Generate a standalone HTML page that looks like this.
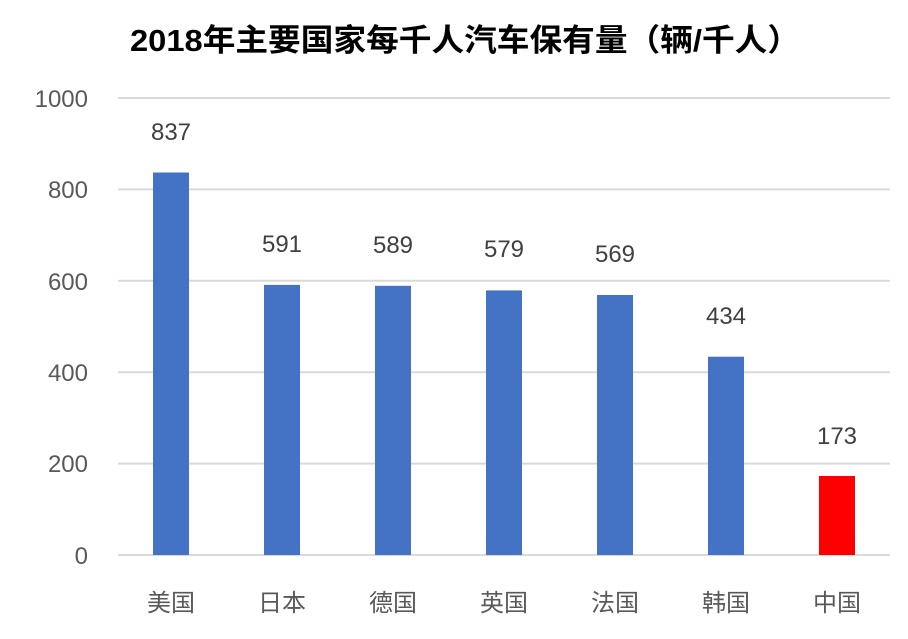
<!DOCTYPE html>
<html><head><meta charset="utf-8"><style>
html,body{margin:0;padding:0;background:#fff;}
body{width:908px;height:634px;overflow:hidden;}
</style></head><body>
<svg width="908" height="634" xmlns="http://www.w3.org/2000/svg" font-family="'Liberation Sans','Noto Sans CJK SC',sans-serif">
<text x="465" y="51" text-anchor="middle" font-size="31" font-weight="bold" fill="#000" textLength="670" lengthAdjust="spacingAndGlyphs">2018年主要国家每千人汽车保有量（辆/千人）</text>
<g stroke="#d9d9d9" stroke-width="2">
<line x1="118" x2="890" y1="98" y2="98"/>
<line x1="118" x2="890" y1="189.4" y2="189.4"/>
<line x1="118" x2="890" y1="280.8" y2="280.8"/>
<line x1="118" x2="890" y1="372.2" y2="372.2"/>
<line x1="118" x2="890" y1="463.6" y2="463.6"/>
<line x1="118" x2="890" y1="555" y2="555"/>
</g>
<g font-size="24" fill="#595959" text-anchor="end">
<text x="88" y="107">1000</text>
<text x="88" y="198">800</text>
<text x="88" y="290">600</text>
<text x="88" y="381">400</text>
<text x="88" y="472">200</text>
<text x="88" y="564">0</text>
</g>
<g fill="#4472c4">
<rect x="153" y="172.5" width="36" height="382.5"/>
<rect x="264" y="284.9" width="36" height="270.1"/>
<rect x="375" y="285.8" width="36" height="269.2"/>
<rect x="486" y="290.4" width="36" height="264.6"/>
<rect x="597" y="295" width="36" height="260"/>
<rect x="708" y="356.7" width="36" height="198.3"/>
</g>
<rect x="819" y="476" width="36" height="79" fill="#ff0000"/>
<g font-size="24" fill="#404040" text-anchor="middle">
<text x="171" y="140">837</text>
<text x="282" y="252">591</text>
<text x="393" y="253">589</text>
<text x="504" y="257">579</text>
<text x="615" y="262">569</text>
<text x="726" y="324">434</text>
<text x="837" y="444">173</text>
</g>
<g font-size="24" fill="#595959" text-anchor="middle">
<text x="171" y="611">美国</text>
<text x="282" y="611">日本</text>
<text x="393" y="611">德国</text>
<text x="504" y="611">英国</text>
<text x="615" y="611">法国</text>
<text x="726" y="611">韩国</text>
<text x="837" y="611">中国</text>
</g>
</svg>
</body></html>
